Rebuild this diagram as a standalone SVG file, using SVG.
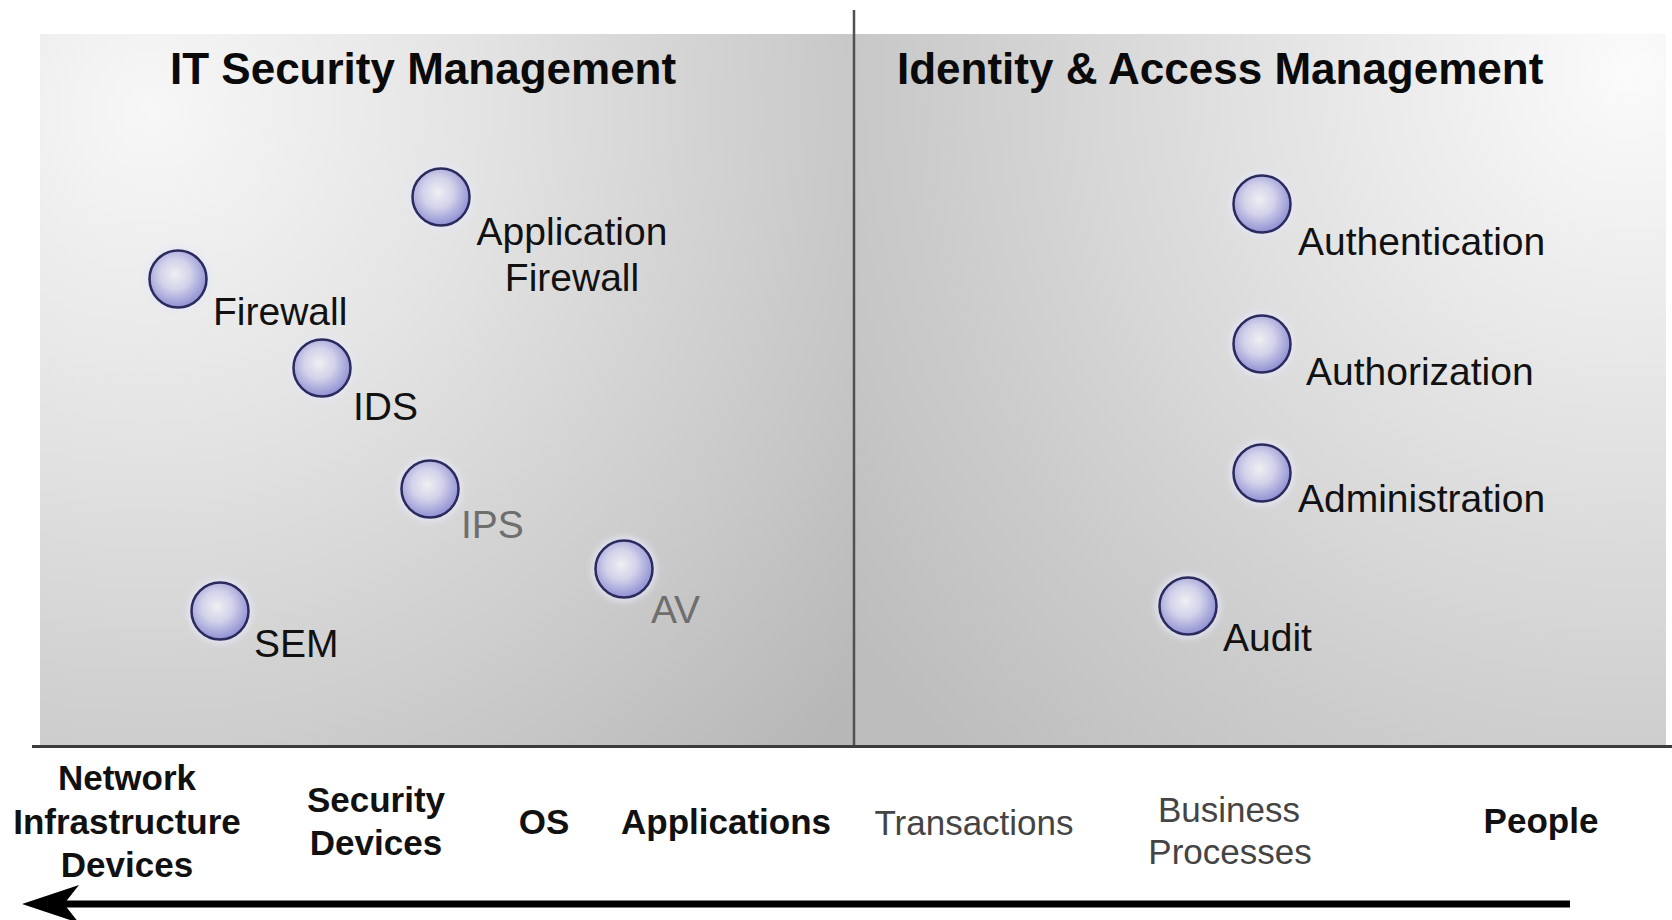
<svg xmlns="http://www.w3.org/2000/svg" width="1672" height="920" viewBox="0 0 1672 920">
  <defs>
    <radialGradient id="bgL" gradientUnits="userSpaceOnUse" cx="150" cy="110" r="920">
      <stop offset="0" stop-color="#f7f7f7"/>
      <stop offset="0.35" stop-color="#e4e4e4"/>
      <stop offset="0.75" stop-color="#c9c9c9"/>
      <stop offset="1" stop-color="#b7b7b7"/>
    </radialGradient>
    <radialGradient id="bgR" gradientUnits="userSpaceOnUse" cx="1630" cy="70" r="960">
      <stop offset="0" stop-color="#fbfbfb"/>
      <stop offset="0.3" stop-color="#e8e8e8"/>
      <stop offset="0.7" stop-color="#cecece"/>
      <stop offset="1" stop-color="#bdbdbd"/>
    </radialGradient>
    <radialGradient id="ball" cx="0.45" cy="0.42" r="0.6">
      <stop offset="0" stop-color="#efeff3"/>
      <stop offset="0.45" stop-color="#d2d2ea"/>
      <stop offset="1" stop-color="#8c8cd2"/>
    </radialGradient>
    <filter id="glow" x="-50%" y="-50%" width="200%" height="200%">
      <feGaussianBlur stdDeviation="3"/>
    </filter>
    <marker id="head" markerUnits="userSpaceOnUse" viewBox="-20 -22 66 44" markerWidth="66" markerHeight="44" refX="0" refY="0" orient="auto" overflow="visible">
      <path d="M42,0 L-15,-19 L0,0 L-15,19 Z" fill="#000"/>
    </marker>
    <style>
      .title { font-family: "Liberation Sans", Arial, sans-serif; font-weight: bold; font-size: 44px; fill: #0a0a0a; }
      .lbl { font-family: "Liberation Sans", Arial, sans-serif; font-size: 39px; fill: #111; }
      .lbl.gray { fill: #6e6e6e; }
      .ax { font-family: "Liberation Sans", Arial, sans-serif; font-size: 35px; fill: #111; text-anchor: middle; }
      .ax.b { font-weight: bold; }
      .ax.light { fill: #444; }
      .dot { fill: url(#ball); stroke: #2a2a5c; stroke-width: 2.5; }
      .halo { fill: #e6e6f6; opacity: 0.8; filter: url(#glow); }
    </style>
  </defs>

  <rect width="1672" height="920" fill="#ffffff"/>

  <g id="panels">
    <rect x="40" y="34" width="815" height="712" fill="url(#bgL)"/>
    <rect x="855" y="34" width="811" height="712" fill="url(#bgR)"/>
    <text class="title" x="170" y="84">IT Security Management</text>
    <text class="title" x="897" y="84">Identity &amp; Access Management</text>
  </g>

  <g id="node-app-firewall">
    <circle class="halo" cx="441" cy="197" r="33"/>
    <circle class="dot" cx="441" cy="197" r="28.5"/>
    <text class="lbl" x="572" y="245" text-anchor="middle">Application</text>
    <text class="lbl" x="572" y="291" text-anchor="middle">Firewall</text>
  </g>
  <g id="node-firewall">
    <circle class="halo" cx="178" cy="279" r="33"/>
    <circle class="dot" cx="178" cy="279" r="28.5"/>
    <text class="lbl" x="213" y="325">Firewall</text>
  </g>
  <g id="node-ids">
    <circle class="halo" cx="322" cy="368" r="33"/>
    <circle class="dot" cx="322" cy="368" r="28.5"/>
    <text class="lbl" x="353" y="420">IDS</text>
  </g>
  <g id="node-ips">
    <circle class="halo" cx="430" cy="489" r="33"/>
    <circle class="dot" cx="430" cy="489" r="28.5"/>
    <text class="lbl gray" x="461" y="538">IPS</text>
  </g>
  <g id="node-av">
    <circle class="halo" cx="624" cy="569" r="33"/>
    <circle class="dot" cx="624" cy="569" r="28.5"/>
    <text class="lbl gray" x="651" y="623">AV</text>
  </g>
  <g id="node-sem">
    <circle class="halo" cx="220" cy="611" r="33"/>
    <circle class="dot" cx="220" cy="611" r="28.5"/>
    <text class="lbl" x="254" y="657">SEM</text>
  </g>
  <g id="node-authentication">
    <circle class="halo" cx="1262" cy="204" r="33"/>
    <circle class="dot" cx="1262" cy="204" r="28.5"/>
    <text class="lbl" x="1298" y="255">Authentication</text>
  </g>
  <g id="node-authorization">
    <circle class="halo" cx="1262" cy="344" r="33"/>
    <circle class="dot" cx="1262" cy="344" r="28.5"/>
    <text class="lbl" x="1306" y="385">Authorization</text>
  </g>
  <g id="node-administration">
    <circle class="halo" cx="1262" cy="473" r="33"/>
    <circle class="dot" cx="1262" cy="473" r="28.5"/>
    <text class="lbl" x="1298" y="512">Administration</text>
  </g>
  <g id="node-audit">
    <circle class="halo" cx="1188" cy="606" r="33"/>
    <circle class="dot" cx="1188" cy="606" r="28.5"/>
    <text class="lbl" x="1223" y="651">Audit</text>
  </g>

  <g id="axis-labels">
    <text class="ax b" x="127" y="790">Network</text>
    <text class="ax b" x="127" y="834">Infrastructure</text>
    <text class="ax b" x="127" y="877">Devices</text>
    <text class="ax b" x="376" y="812">Security</text>
    <text class="ax b" x="376" y="855">Devices</text>
    <text class="ax b" x="544" y="834">OS</text>
    <text class="ax b" x="726" y="834">Applications</text>
    <text class="ax light" x="974" y="835">Transactions</text>
    <text class="ax light" x="1229" y="822">Business</text>
    <text class="ax light" x="1230" y="864">Processes</text>
    <text class="ax b" x="1541" y="833">People</text>
  </g>

  <g id="connectors">
    <line x1="854" y1="10" x2="854" y2="745" stroke="#505050" stroke-width="2.5"/>
    <line x1="32" y1="746.5" x2="1672" y2="746.5" stroke="#3c3c3c" stroke-width="3"/>
    <line x1="1570" y1="904" x2="64" y2="904" stroke="#000" stroke-width="7" marker-end="url(#head)"/>
  </g>
</svg>
